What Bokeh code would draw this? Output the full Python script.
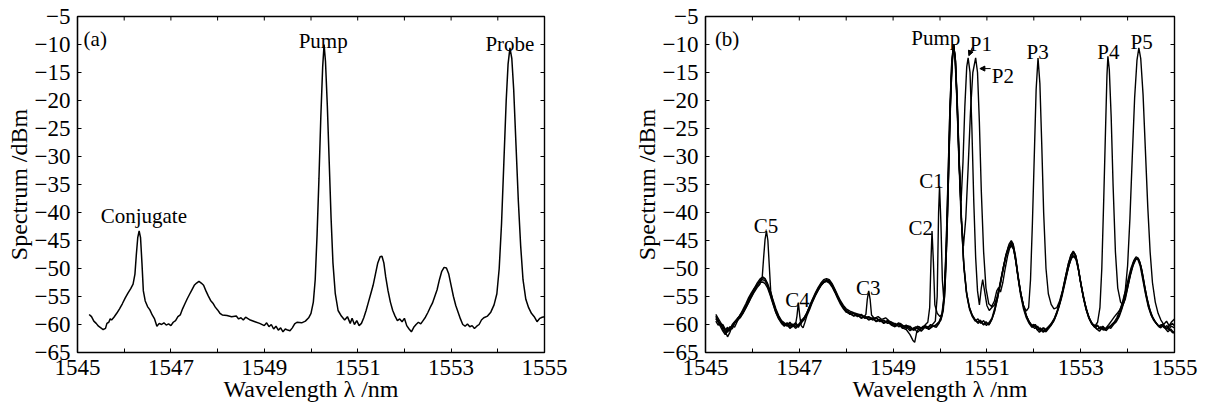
import math
from bokeh.plotting import figure
from bokeh.layouts import row
from bokeh.models import FixedTicker, ColumnDataSource, Arrow, NormalHead, Range1d
from bokeh.core.properties import value
from bokeh.embed import file_html
from bokeh.resources import INLINE

FONT = "Liberation Serif"

# ---------------- axes ----------------
X_RANGE = (1545, 1555)
Y_RANGE = (-65, -5)
X_TICKS_LABELED = [1545, 1547, 1549, 1551, 1553, 1555]
X_TICKS_PLAIN = [1546, 1548, 1550, 1552, 1554]
Y_TICKS = [-65, -60, -55, -50, -45, -40, -35, -30, -25, -20, -15, -10, -5]
Y_TICK_LABELS = ["\u221265", "\u221260", "\u221255", "\u221250", "\u221245", "\u221240", "\u221235",
                 "\u221230", "\u221225", "\u221220", "\u221215", "\u221210", "\u22125"]
X_LABEL = "Wavelength \u03bb /nm"
Y_LABEL = "Spectrum /dBm"

# ---------------- panel (a): single spectrum ----------------
SPEC_A = [
    (1545.25, -58.2), (1545.30, -58.6), (1545.35, -59.4), (1545.40, -59.8), (1545.45, -60.3),
    (1545.50, -60.6), (1545.55, -60.9), (1545.60, -60.7), (1545.63, -59.8), (1545.67, -59.6),
    (1545.70, -59.0), (1545.73, -59.2), (1545.78, -58.7), (1545.84, -58.0), (1545.90, -57.2),
    (1545.96, -56.3), (1546.02, -55.3), (1546.08, -54.4), (1546.14, -53.6), (1546.19, -52.8),
    (1546.23, -51.0), (1546.26, -47.5), (1546.29, -44.5), (1546.32, -43.3), (1546.35, -44.5),
    (1546.38, -49.0), (1546.41, -54.0), (1546.45, -55.8), (1546.50, -56.8), (1546.55, -57.4),
    (1546.60, -58.3), (1546.65, -59.0), (1546.70, -60.3), (1546.75, -59.8), (1546.80, -60.0),
    (1546.85, -59.7), (1546.90, -60.1), (1546.95, -59.9), (1547.00, -60.2), (1547.05, -59.6),
    (1547.10, -59.3), (1547.15, -58.6), (1547.20, -58.3), (1547.25, -57.2), (1547.30, -56.3),
    (1547.35, -55.4), (1547.40, -54.6), (1547.45, -53.8), (1547.50, -53.0), (1547.55, -52.6),
    (1547.60, -52.3), (1547.65, -52.6), (1547.70, -53.0), (1547.75, -54.0), (1547.80, -54.9),
    (1547.85, -55.7), (1547.90, -56.2), (1547.95, -56.9), (1548.00, -57.4), (1548.05, -58.0),
    (1548.10, -58.3), (1548.20, -58.4), (1548.30, -58.6), (1548.40, -58.5), (1548.45, -59.0),
    (1548.50, -58.8), (1548.55, -59.2), (1548.60, -58.7), (1548.70, -59.2), (1548.80, -59.5),
    (1548.90, -59.8), (1549.00, -60.2), (1549.05, -59.7), (1549.10, -60.4), (1549.15, -60.0),
    (1549.20, -60.8), (1549.25, -60.3), (1549.30, -61.0), (1549.35, -60.6), (1549.40, -61.3),
    (1549.45, -60.8), (1549.50, -61.0), (1549.55, -61.1), (1549.60, -60.6), (1549.65, -59.9),
    (1549.70, -59.6), (1549.80, -59.7), (1549.88, -59.4), (1549.95, -58.8), (1550.00, -58.0),
    (1550.05, -56.0), (1550.09, -52.0), (1550.13, -44.0), (1550.17, -34.0), (1550.21, -23.0),
    (1550.25, -14.0), (1550.28, -10.0), (1550.31, -13.0), (1550.35, -21.0), (1550.39, -31.0),
    (1550.43, -41.0), (1550.47, -49.0), (1550.52, -54.5), (1550.58, -57.5), (1550.65, -58.5),
    (1550.72, -59.2), (1550.78, -58.6), (1550.84, -59.8), (1550.88, -58.9), (1550.93, -60.0),
    (1550.98, -59.3), (1551.03, -60.2), (1551.08, -59.8), (1551.13, -58.8), (1551.18, -57.5),
    (1551.23, -56.0), (1551.28, -54.5), (1551.33, -53.0), (1551.38, -51.0), (1551.43, -49.0),
    (1551.48, -47.9), (1551.52, -47.8), (1551.56, -49.0), (1551.60, -51.5), (1551.65, -54.0),
    (1551.70, -56.0), (1551.75, -57.5), (1551.80, -58.5), (1551.85, -59.3), (1551.90, -59.0),
    (1551.95, -59.5), (1552.00, -58.9), (1552.05, -60.2), (1552.10, -60.8), (1552.15, -61.3),
    (1552.20, -60.5), (1552.25, -60.0), (1552.30, -59.6), (1552.35, -59.9), (1552.40, -59.3),
    (1552.45, -58.7), (1552.50, -57.9), (1552.55, -57.0), (1552.60, -56.2), (1552.65, -55.0),
    (1552.70, -53.8), (1552.75, -52.0), (1552.80, -50.5), (1552.85, -49.8), (1552.90, -49.9),
    (1552.95, -51.0), (1553.00, -53.0), (1553.05, -55.0), (1553.10, -56.6), (1553.15, -57.8),
    (1553.20, -59.0), (1553.25, -60.0), (1553.30, -60.3), (1553.35, -59.9), (1553.40, -60.4),
    (1553.45, -60.2), (1553.50, -60.7), (1553.55, -60.3), (1553.60, -60.0), (1553.65, -59.2),
    (1553.70, -58.8), (1553.78, -58.5), (1553.85, -57.8), (1553.92, -56.5), (1553.98, -54.5),
    (1554.03, -50.0), (1554.08, -42.0), (1554.13, -31.0), (1554.18, -20.0), (1554.22, -13.5),
    (1554.26, -10.6), (1554.30, -12.5), (1554.34, -18.0), (1554.39, -28.0), (1554.44, -38.0),
    (1554.49, -46.0), (1554.54, -52.0), (1554.60, -55.5), (1554.66, -57.0), (1554.72, -58.0),
    (1554.78, -58.6), (1554.84, -59.5), (1554.90, -58.9), (1554.95, -58.7), (1555.00, -58.6),
]

LABELS_A = ["(a)", "Conjugate", "Pump", "Probe"]
LABELS_A_X = [1545.13, 1546.42, 1550.26, 1554.26]
LABELS_A_Y = [-9.0, -40.6, -9.3, -9.9]
LABELS_A_ALIGN = ["left", "center", "center", "center"]

# ---------------- panel (b): five spectra (probe P1..P5) ----------------
SPEC_B1 = [
    (1545.22, -59.0), (1545.27, -59.6), (1545.32, -60.4), (1545.37, -61.2), (1545.42, -61.8),
    (1545.47, -61.0), (1545.52, -60.4), (1545.57, -60.8), (1545.62, -59.8), (1545.68, -59.2),
    (1545.74, -58.6), (1545.80, -57.9), (1545.86, -57.0), (1545.92, -56.0), (1545.98, -55.0),
    (1546.04, -54.0), (1546.10, -53.0), (1546.16, -52.2), (1546.22, -51.6), (1546.27, -51.9),
    (1546.32, -52.8), (1546.38, -54.3), (1546.44, -55.9), (1546.50, -57.4), (1546.56, -58.6),
    (1546.62, -59.5), (1546.68, -59.9), (1546.74, -60.3), (1546.80, -59.8), (1546.86, -60.4),
    (1546.92, -60.0), (1546.98, -60.5), (1547.04, -59.6), (1547.10, -59.2), (1547.16, -58.2),
    (1547.22, -57.0), (1547.28, -55.9), (1547.34, -54.8), (1547.40, -53.9), (1547.46, -53.0),
    (1547.52, -52.4), (1547.58, -52.0), (1547.64, -52.2), (1547.70, -52.9), (1547.76, -53.9),
    (1547.82, -55.0), (1547.88, -56.0), (1547.94, -56.8), (1548.00, -57.4), (1548.08, -57.9),
    (1548.16, -58.0), (1548.24, -58.4), (1548.32, -58.2), (1548.40, -58.7), (1548.48, -58.6),
    (1548.56, -59.0), (1548.64, -58.8), (1548.72, -59.3), (1548.80, -59.6), (1548.88, -59.3),
    (1548.96, -59.9), (1549.04, -60.1), (1549.12, -59.7), (1549.20, -60.4), (1549.28, -60.1),
    (1549.36, -60.8), (1549.44, -61.0), (1549.52, -60.3), (1549.60, -60.7), (1549.68, -60.2),
    (1549.76, -60.5), (1549.84, -60.0), (1549.90, -59.4), (1549.94, -55.0), (1549.97, -40.0),
    (1549.99, -35.3), (1550.02, -42.0), (1550.05, -52.0), (1550.08, -55.5), (1550.12, -50.0),
    (1550.16, -40.0), (1550.20, -27.0), (1550.24, -16.0), (1550.29, -10.0), (1550.33, -13.0),
    (1550.37, -22.0), (1550.41, -32.0), (1550.45, -38.0), (1550.49, -31.0), (1550.53, -21.0),
    (1550.57, -14.0), (1550.60, -12.4), (1550.64, -15.0), (1550.68, -25.0), (1550.72, -38.0),
    (1550.76, -48.0), (1550.80, -54.0), (1550.84, -56.5), (1550.88, -53.5), (1550.91, -52.0),
    (1550.95, -54.0), (1551.00, -56.6), (1551.05, -57.5), (1551.10, -57.0), (1551.16, -56.5),
    (1551.22, -55.0), (1551.28, -53.0), (1551.34, -50.5), (1551.40, -48.0), (1551.46, -46.3),
    (1551.52, -45.3), (1551.56, -45.8), (1551.60, -47.5), (1551.65, -50.5), (1551.70, -53.5),
    (1551.76, -56.0), (1551.82, -58.0), (1551.88, -59.3), (1551.94, -60.2), (1552.00, -60.0),
    (1552.06, -60.8), (1552.12, -61.4), (1552.18, -60.9), (1552.24, -61.3), (1552.30, -60.6),
    (1552.36, -60.2), (1552.42, -59.5), (1552.48, -58.3), (1552.54, -56.8), (1552.60, -55.0),
    (1552.66, -52.8), (1552.72, -50.5), (1552.78, -48.5), (1552.84, -47.3), (1552.88, -47.5),
    (1552.93, -49.0), (1552.98, -51.5), (1553.04, -54.2), (1553.10, -56.5), (1553.16, -58.3),
    (1553.22, -59.6), (1553.28, -60.3), (1553.34, -60.8), (1553.40, -61.2), (1553.46, -60.6),
    (1553.52, -61.0), (1553.58, -60.4), (1553.64, -60.7), (1553.70, -60.0), (1553.76, -59.5),
    (1553.82, -58.6), (1553.88, -57.2), (1553.94, -55.5), (1554.00, -53.4), (1554.06, -51.2),
    (1554.12, -49.4), (1554.18, -48.3), (1554.22, -48.2), (1554.26, -48.8), (1554.31, -50.5),
    (1554.36, -53.0), (1554.42, -55.5), (1554.48, -57.5), (1554.54, -58.8), (1554.60, -59.6),
    (1554.66, -60.3), (1554.72, -60.0), (1554.78, -60.6), (1554.84, -60.2), (1554.90, -60.9),
    (1554.96, -61.5), (1555.00, -61.2),
]

SPEC_B2 = [
    (1545.22, -58.5), (1545.27, -59.4), (1545.32, -60.0), (1545.37, -60.6), (1545.42, -61.2),
    (1545.47, -62.2), (1545.52, -61.4), (1545.57, -60.2), (1545.62, -60.5), (1545.68, -59.4),
    (1545.74, -58.2), (1545.80, -57.6), (1545.86, -56.8), (1545.92, -55.9), (1545.98, -54.8),
    (1546.04, -53.9), (1546.10, -53.0), (1546.16, -52.3), (1546.22, -52.0), (1546.27, -52.2),
    (1546.32, -53.0), (1546.38, -54.6), (1546.44, -56.2), (1546.50, -57.8), (1546.56, -58.9),
    (1546.62, -59.6), (1546.68, -60.2), (1546.74, -59.9), (1546.80, -60.6), (1546.86, -60.1),
    (1546.92, -60.7), (1546.98, -60.2), (1547.04, -59.8), (1547.10, -59.0), (1547.16, -58.0),
    (1547.22, -56.9), (1547.28, -55.7), (1547.34, -54.6), (1547.40, -53.6), (1547.46, -52.9),
    (1547.52, -52.3), (1547.58, -52.1), (1547.64, -52.4), (1547.70, -53.1), (1547.76, -54.1),
    (1547.82, -55.2), (1547.88, -56.2), (1547.94, -57.0), (1548.00, -57.6), (1548.08, -58.2),
    (1548.16, -58.0), (1548.24, -58.6), (1548.32, -58.4), (1548.40, -58.9), (1548.48, -58.7),
    (1548.56, -59.2), (1548.64, -58.9), (1548.72, -59.5), (1548.80, -59.2), (1548.88, -59.8),
    (1548.96, -59.6), (1549.04, -60.3), (1549.12, -60.0), (1549.20, -60.6), (1549.28, -60.9),
    (1549.36, -61.8), (1549.42, -62.8), (1549.46, -63.2), (1549.50, -61.5), (1549.56, -60.4),
    (1549.62, -60.8), (1549.68, -60.1), (1549.74, -59.6), (1549.78, -57.0), (1549.81, -48.0),
    (1549.83, -43.3), (1549.86, -49.0), (1549.89, -56.5), (1549.94, -58.0), (1550.00, -58.6),
    (1550.05, -58.0), (1550.10, -55.0), (1550.14, -46.0), (1550.18, -34.0), (1550.22, -21.0),
    (1550.26, -13.0), (1550.29, -10.0), (1550.32, -12.5), (1550.36, -20.0), (1550.40, -30.0),
    (1550.45, -41.0), (1550.50, -46.0), (1550.55, -41.0), (1550.60, -32.0), (1550.65, -22.0),
    (1550.70, -15.0), (1550.76, -12.4), (1550.80, -15.0), (1550.84, -24.0), (1550.88, -36.0),
    (1550.93, -47.0), (1550.98, -53.5), (1551.04, -56.3), (1551.10, -56.8), (1551.16, -55.8),
    (1551.21, -54.0), (1551.25, -53.4), (1551.29, -54.2), (1551.34, -52.5), (1551.39, -50.0),
    (1551.44, -47.8), (1551.49, -46.2), (1551.54, -45.9), (1551.58, -46.8), (1551.62, -49.0),
    (1551.67, -52.0), (1551.72, -54.8), (1551.78, -57.2), (1551.84, -58.8), (1551.90, -59.8),
    (1551.96, -60.5), (1552.02, -60.2), (1552.08, -61.0), (1552.14, -60.6), (1552.20, -61.4),
    (1552.26, -60.8), (1552.32, -60.3), (1552.38, -59.8), (1552.44, -58.9), (1552.50, -57.6),
    (1552.56, -56.0), (1552.62, -54.0), (1552.68, -51.8), (1552.74, -49.7), (1552.80, -48.2),
    (1552.85, -47.8), (1552.90, -48.4), (1552.95, -50.2), (1553.00, -52.6), (1553.06, -55.2),
    (1553.12, -57.3), (1553.18, -58.9), (1553.24, -59.9), (1553.30, -60.5), (1553.36, -60.2),
    (1553.42, -60.9), (1553.48, -60.4), (1553.54, -61.1), (1553.60, -60.6), (1553.66, -60.2),
    (1553.72, -59.7), (1553.78, -59.0), (1553.84, -57.9), (1553.90, -56.4), (1553.96, -54.5),
    (1554.02, -52.3), (1554.08, -50.3), (1554.14, -48.8), (1554.19, -48.2), (1554.24, -48.5),
    (1554.29, -49.8), (1554.34, -52.0), (1554.40, -54.8), (1554.46, -57.0), (1554.52, -58.5),
    (1554.58, -59.4), (1554.64, -60.1), (1554.70, -60.6), (1554.76, -60.2), (1554.82, -60.8),
    (1554.88, -60.3), (1554.94, -59.5), (1555.00, -59.0),
]

SPEC_B3 = [
    (1545.22, -59.4), (1545.27, -60.1), (1545.32, -59.8), (1545.37, -60.9), (1545.42, -61.5),
    (1545.47, -60.7), (1545.52, -61.1), (1545.57, -60.0), (1545.62, -59.5), (1545.68, -58.9),
    (1545.74, -58.4), (1545.80, -57.6), (1545.86, -56.6), (1545.92, -55.6), (1545.98, -54.6),
    (1546.04, -53.6), (1546.10, -52.6), (1546.16, -51.9), (1546.22, -51.5), (1546.27, -51.8),
    (1546.32, -52.6), (1546.38, -54.0), (1546.44, -55.6), (1546.50, -57.2), (1546.56, -58.4),
    (1546.62, -59.3), (1546.68, -59.7), (1546.74, -60.1), (1546.80, -59.6), (1546.86, -60.2),
    (1546.92, -59.7), (1546.98, -60.3), (1547.04, -59.3), (1547.10, -58.8), (1547.16, -57.9),
    (1547.22, -56.7), (1547.28, -55.5), (1547.34, -54.4), (1547.40, -53.4), (1547.46, -52.6),
    (1547.52, -52.0), (1547.58, -51.8), (1547.64, -52.0), (1547.70, -52.7), (1547.76, -53.7),
    (1547.82, -54.8), (1547.88, -55.8), (1547.94, -56.6), (1548.00, -57.2), (1548.08, -57.6),
    (1548.16, -57.9), (1548.24, -58.1), (1548.32, -58.3), (1548.38, -58.6), (1548.42, -58.2),
    (1548.45, -55.5), (1548.48, -54.0), (1548.51, -55.5), (1548.54, -58.3), (1548.60, -58.9),
    (1548.68, -58.6), (1548.76, -59.1), (1548.84, -58.8), (1548.92, -59.4), (1549.00, -59.7),
    (1549.08, -60.2), (1549.16, -59.8), (1549.24, -60.5), (1549.32, -60.2), (1549.40, -60.9),
    (1549.48, -60.4), (1549.56, -60.9), (1549.64, -60.3), (1549.72, -60.7), (1549.80, -60.0),
    (1549.88, -60.4), (1549.96, -59.8), (1550.02, -59.2), (1550.07, -57.5), (1550.11, -53.0),
    (1550.15, -44.0), (1550.19, -31.0), (1550.23, -19.0), (1550.27, -11.5), (1550.29, -10.0),
    (1550.32, -12.0), (1550.36, -19.0), (1550.40, -29.0), (1550.45, -40.0), (1550.50, -48.5),
    (1550.56, -54.0), (1550.62, -56.8), (1550.68, -58.2), (1550.74, -59.0), (1550.80, -59.6),
    (1550.86, -59.2), (1550.92, -60.0), (1550.98, -59.5), (1551.04, -60.1), (1551.10, -59.2),
    (1551.16, -57.8), (1551.22, -55.6), (1551.28, -53.0), (1551.34, -50.3), (1551.40, -47.8),
    (1551.46, -46.2), (1551.52, -45.6), (1551.56, -46.2), (1551.61, -48.3), (1551.66, -51.3),
    (1551.72, -54.4), (1551.78, -56.6), (1551.84, -57.6), (1551.89, -57.0), (1551.93, -52.0),
    (1551.97, -42.0), (1552.01, -30.0), (1552.05, -18.0), (1552.09, -12.4), (1552.13, -17.0),
    (1552.17, -28.0), (1552.21, -40.0), (1552.26, -50.0), (1552.31, -54.5), (1552.37, -56.4),
    (1552.43, -57.2), (1552.49, -57.0), (1552.55, -55.8), (1552.61, -54.0), (1552.67, -51.7),
    (1552.73, -49.4), (1552.79, -47.6), (1552.84, -46.9), (1552.89, -47.6), (1552.94, -49.6),
    (1552.99, -52.2), (1553.05, -55.0), (1553.11, -57.2), (1553.17, -58.8), (1553.23, -59.8),
    (1553.29, -60.4), (1553.35, -60.1), (1553.41, -60.7), (1553.47, -60.3), (1553.53, -60.9),
    (1553.59, -60.5), (1553.65, -60.1), (1553.71, -59.6), (1553.77, -58.8), (1553.83, -57.6),
    (1553.89, -56.0), (1553.95, -54.1), (1554.01, -52.0), (1554.07, -50.0), (1554.13, -48.6),
    (1554.18, -47.9), (1554.23, -48.2), (1554.28, -49.5), (1554.33, -51.8), (1554.39, -54.6),
    (1554.45, -56.9), (1554.51, -58.4), (1554.57, -59.3), (1554.63, -60.0), (1554.69, -60.4),
    (1554.75, -59.9), (1554.81, -60.5), (1554.87, -60.9), (1554.93, -60.3), (1555.00, -60.6),
]

SPEC_B4 = [
    (1545.22, -58.8), (1545.27, -59.2), (1545.32, -60.1), (1545.37, -60.0), (1545.42, -60.8),
    (1545.47, -61.4), (1545.52, -60.6), (1545.57, -60.2), (1545.62, -59.7), (1545.68, -59.0),
    (1545.74, -58.3), (1545.80, -57.3), (1545.86, -56.3), (1545.92, -55.2), (1545.98, -54.3),
    (1546.04, -53.5), (1546.10, -52.9), (1546.16, -52.5), (1546.22, -52.4), (1546.27, -52.7),
    (1546.32, -53.4), (1546.38, -54.8), (1546.44, -56.4), (1546.50, -57.9), (1546.56, -59.0),
    (1546.62, -59.8), (1546.68, -60.3), (1546.74, -60.0), (1546.80, -60.7), (1546.86, -60.3),
    (1546.92, -60.0), (1546.95, -58.5), (1546.98, -56.1), (1547.01, -58.5), (1547.04, -60.2),
    (1547.08, -60.6), (1547.12, -59.6), (1547.16, -58.5), (1547.22, -57.3), (1547.28, -56.0),
    (1547.34, -54.9), (1547.40, -53.9), (1547.46, -53.1), (1547.52, -52.5), (1547.58, -52.2),
    (1547.64, -52.4), (1547.70, -53.0), (1547.76, -54.0), (1547.82, -55.1), (1547.88, -56.1),
    (1547.94, -57.0), (1548.00, -57.7), (1548.08, -58.1), (1548.16, -58.4), (1548.24, -58.2),
    (1548.32, -58.8), (1548.40, -58.5), (1548.48, -59.1), (1548.56, -58.8), (1548.64, -59.4),
    (1548.72, -59.1), (1548.80, -59.7), (1548.88, -59.4), (1548.96, -60.0), (1549.04, -59.8),
    (1549.12, -60.4), (1549.20, -60.1), (1549.28, -60.7), (1549.36, -60.3), (1549.44, -61.0),
    (1549.52, -60.6), (1549.60, -61.2), (1549.68, -60.5), (1549.76, -60.8), (1549.84, -60.2),
    (1549.92, -60.5), (1549.98, -59.8), (1550.04, -58.5), (1550.09, -55.0), (1550.13, -47.0),
    (1550.17, -35.0), (1550.21, -22.0), (1550.25, -13.5), (1550.29, -10.1), (1550.33, -13.0),
    (1550.37, -21.0), (1550.41, -31.0), (1550.46, -42.0), (1550.51, -50.0), (1550.57, -54.8),
    (1550.63, -57.3), (1550.69, -58.6), (1550.75, -59.4), (1550.81, -59.0), (1550.87, -59.8),
    (1550.93, -59.3), (1550.99, -60.2), (1551.05, -59.6), (1551.11, -58.8), (1551.17, -57.0),
    (1551.23, -54.8), (1551.29, -52.2), (1551.35, -49.8), (1551.41, -47.7), (1551.47, -46.4),
    (1551.53, -46.0), (1551.57, -46.6), (1551.62, -48.8), (1551.67, -51.8), (1551.73, -54.8),
    (1551.79, -57.0), (1551.85, -58.6), (1551.91, -59.6), (1551.97, -60.3), (1552.03, -60.0),
    (1552.09, -60.7), (1552.15, -61.2), (1552.21, -60.6), (1552.27, -61.0), (1552.33, -60.3),
    (1552.39, -59.6), (1552.45, -58.7), (1552.51, -57.3), (1552.57, -55.6), (1552.63, -53.5),
    (1552.69, -51.2), (1552.75, -49.3), (1552.81, -48.0), (1552.86, -47.7), (1552.91, -48.5),
    (1552.96, -50.5), (1553.01, -53.0), (1553.07, -55.6), (1553.13, -57.6), (1553.19, -59.0),
    (1553.25, -59.9), (1553.31, -60.2), (1553.36, -59.6), (1553.41, -57.0), (1553.45, -50.0),
    (1553.49, -38.0), (1553.53, -25.0), (1553.56, -15.5), (1553.58, -12.1), (1553.61, -14.5),
    (1553.65, -23.0), (1553.69, -35.0), (1553.74, -47.0), (1553.79, -53.5), (1553.85, -56.0),
    (1553.90, -56.5), (1553.95, -55.5), (1554.00, -53.5), (1554.06, -51.0), (1554.12, -49.0),
    (1554.17, -48.2), (1554.22, -48.4), (1554.27, -49.6), (1554.32, -51.8), (1554.38, -54.5),
    (1554.44, -56.8), (1554.50, -58.3), (1554.56, -59.3), (1554.62, -59.9), (1554.68, -60.5),
    (1554.74, -60.1), (1554.80, -60.7), (1554.86, -61.3), (1554.92, -60.8), (1555.00, -61.6),
]

SPEC_B5 = [
    (1545.22, -58.2), (1545.27, -58.9), (1545.32, -59.6), (1545.37, -60.3), (1545.42, -61.0),
    (1545.47, -60.5), (1545.52, -61.2), (1545.57, -60.4), (1545.62, -59.6), (1545.68, -59.3),
    (1545.74, -58.8), (1545.80, -58.0), (1545.86, -57.1), (1545.92, -56.1), (1545.98, -55.1),
    (1546.04, -54.2), (1546.10, -53.4), (1546.16, -52.8), (1546.21, -51.5), (1546.24, -48.0),
    (1546.27, -44.8), (1546.30, -43.3), (1546.33, -45.0), (1546.36, -49.5), (1546.39, -54.0),
    (1546.44, -56.0), (1546.50, -57.6), (1546.56, -58.7), (1546.62, -59.4), (1546.68, -60.0),
    (1546.74, -59.7), (1546.80, -60.3), (1546.86, -59.9), (1546.92, -60.4), (1546.98, -60.0),
    (1547.04, -59.5), (1547.10, -58.9), (1547.16, -58.0), (1547.22, -56.8), (1547.28, -55.6),
    (1547.34, -54.6), (1547.40, -53.7), (1547.46, -53.0), (1547.52, -52.5), (1547.58, -52.3),
    (1547.64, -52.6), (1547.70, -53.3), (1547.76, -54.3), (1547.82, -55.4), (1547.88, -56.4),
    (1547.94, -57.2), (1548.00, -57.8), (1548.08, -58.0), (1548.16, -58.5), (1548.24, -58.3),
    (1548.32, -58.9), (1548.40, -58.6), (1548.48, -59.2), (1548.56, -58.9), (1548.64, -59.5),
    (1548.72, -59.2), (1548.80, -59.8), (1548.88, -59.5), (1548.96, -60.1), (1549.04, -60.4),
    (1549.12, -59.9), (1549.20, -60.7), (1549.28, -60.4), (1549.36, -61.1), (1549.44, -60.6),
    (1549.52, -61.4), (1549.60, -60.8), (1549.68, -60.3), (1549.76, -60.9), (1549.84, -60.4),
    (1549.92, -60.0), (1549.98, -59.5), (1550.04, -58.2), (1550.09, -54.5), (1550.13, -46.0),
    (1550.17, -34.0), (1550.21, -21.5), (1550.25, -13.0), (1550.29, -10.0), (1550.33, -12.8),
    (1550.37, -20.5), (1550.41, -30.5), (1550.46, -41.5), (1550.51, -49.5), (1550.57, -54.5),
    (1550.63, -57.0), (1550.69, -58.4), (1550.75, -59.2), (1550.81, -59.8), (1550.87, -59.4),
    (1550.93, -60.1), (1550.99, -59.7), (1551.05, -60.0), (1551.11, -59.0), (1551.17, -57.4),
    (1551.23, -55.2), (1551.29, -52.5), (1551.35, -49.8), (1551.41, -47.4), (1551.47, -45.7),
    (1551.52, -45.0), (1551.56, -45.6), (1551.61, -47.8), (1551.66, -51.0), (1551.72, -54.2),
    (1551.78, -56.7), (1551.84, -58.4), (1551.90, -59.5), (1551.96, -60.2), (1552.02, -60.7),
    (1552.08, -60.3), (1552.14, -61.0), (1552.20, -60.6), (1552.26, -61.3), (1552.32, -60.7),
    (1552.38, -60.0), (1552.44, -59.1), (1552.50, -57.8), (1552.56, -56.0), (1552.62, -53.8),
    (1552.68, -51.3), (1552.74, -49.0), (1552.80, -47.5), (1552.85, -47.0), (1552.90, -47.8),
    (1552.95, -49.9), (1553.00, -52.5), (1553.06, -55.2), (1553.12, -57.4), (1553.18, -58.9),
    (1553.24, -59.8), (1553.30, -60.3), (1553.36, -60.9), (1553.42, -60.4), (1553.48, -61.0),
    (1553.54, -60.6), (1553.60, -60.0), (1553.66, -59.3), (1553.72, -58.6), (1553.78, -58.0),
    (1553.84, -57.3), (1553.90, -56.2), (1553.95, -54.0), (1554.00, -49.5), (1554.05, -41.0),
    (1554.10, -30.0), (1554.15, -19.5), (1554.20, -12.8), (1554.24, -10.6), (1554.28, -12.5),
    (1554.33, -19.0), (1554.38, -29.0), (1554.43, -39.0), (1554.48, -47.0), (1554.53, -52.5),
    (1554.59, -56.0), (1554.65, -58.0), (1554.71, -59.2), (1554.77, -60.0), (1554.83, -59.4),
    (1554.89, -60.3), (1554.95, -59.8), (1555.00, -60.2),
]

LABELS_B = ["(b)", "Pump", "P1", "P2", "P3", "P4", "P5", "C1", "C2", "C3", "C4", "C5"]
LABELS_B_X = [1545.20, 1549.91, 1550.87, 1551.34, 1552.08, 1553.59, 1554.30,
              1549.82, 1549.59, 1548.47, 1546.96, 1546.29]
LABELS_B_Y = [-9.0, -8.8, -9.9, -15.6, -11.4, -11.3, -9.5,
              -34.3, -42.7, -53.4, -55.6, -42.4]
LABELS_B_ALIGN = ["left"] + ["center"] * 11

# arrows from labels P1 / P2 to their peaks
ARROW_X0 = [1550.69, 1551.08]
ARROW_Y0 = [-10.5, -14.3]
ARROW_X1 = [1550.615, 1550.85]
ARROW_Y1 = [-12.0, -14.3]


def style(p):
    p.xgrid.visible = False
    p.ygrid.visible = False
    p.outline_line_color = "black"
    p.outline_line_width = 1.4
    p.outline_line_alpha = 1.0
    p.background_fill_color = "white"
    p.border_fill_color = "white"
    y_over = {t: l for t, l in zip(Y_TICKS, Y_TICK_LABELS)}
    for ax in p.xaxis:
        ax.ticker = FixedTicker(ticks=X_TICKS_LABELED, minor_ticks=X_TICKS_PLAIN)
        ax.major_label_standoff = 7
        ax.axis_label_standoff = -2
    for ax in p.yaxis:
        ax.ticker = FixedTicker(ticks=Y_TICKS, minor_ticks=[])
        ax.major_label_overrides = y_over
        ax.major_label_standoff = 7
        ax.axis_label_standoff = 0
    for ax in list(p.xaxis) + list(p.yaxis):
        ax.major_tick_in = 4
        ax.major_tick_out = 0
        ax.minor_tick_in = 4
        ax.minor_tick_out = 0
        ax.minor_tick_line_color = "black"
        ax.axis_line_color = "black"
        ax.axis_line_width = 1.2
        ax.major_tick_line_color = "black"
        ax.major_label_text_font = FONT
        ax.major_label_text_font_size = "23px"
        ax.major_label_text_color = "black"
        ax.axis_label_text_font = FONT
        ax.axis_label_text_font_size = "24px"
        ax.axis_label_text_font_style = "normal"
        ax.axis_label_text_color = "black"
    # inward tick marks on the top and right frame edges (clipped to the frame)
    top_x = X_TICKS_LABELED + X_TICKS_PLAIN
    p.scatter(x=top_x, y=[Y_RANGE[1]] * len(top_x), marker="dash", size=8,
              angle=math.pi / 2, line_color="black", line_width=1)
    p.scatter(x=[X_RANGE[1]] * len(Y_TICKS), y=Y_TICKS, marker="dash", size=8,
              line_color="black", line_width=1)


def make_fig(width, left, right):
    p = figure(width=width, height=412, x_range=Range1d(*X_RANGE), y_range=Range1d(*Y_RANGE),
               output_backend="svg", toolbar_location=None,
               min_border_left=left, min_border_right=right, min_border_top=16, min_border_bottom=60,
               x_axis_label=X_LABEL, y_axis_label=Y_LABEL)
    style(p)
    return p


# ---- panel (a)
pa = make_fig(600, 77, 56)
xa, ya = zip(*SPEC_A)
pa.line(list(xa), list(ya), line_color="black", line_width=1.5)
src_la = ColumnDataSource(dict(x=LABELS_A_X, y=LABELS_A_Y, t=LABELS_A, a=LABELS_A_ALIGN))
pa.text(x="x", y="y", text="t", text_align="a", source=src_la, text_baseline="alphabetic",
        text_font=value(FONT), text_font_size="21px", text_color="black")

# ---- panel (b)
pb = make_fig(600, 105, 26)
for spec in (SPEC_B1, SPEC_B2, SPEC_B3, SPEC_B4, SPEC_B5):
    xb, yb = zip(*spec)
    pb.line(list(xb), list(yb), line_color="black", line_width=1.4)
src_lb = ColumnDataSource(dict(x=LABELS_B_X, y=LABELS_B_Y, t=LABELS_B, a=LABELS_B_ALIGN))
pb.text(x="x", y="y", text="t", text_align="a", source=src_lb, text_baseline="alphabetic",
        text_font=value(FONT), text_font_size="21px", text_color="black")
src_arr = ColumnDataSource(dict(x0=ARROW_X0, y0=ARROW_Y0, x1=ARROW_X1, y1=ARROW_Y1))
pb.add_layout(Arrow(end=NormalHead(size=5, fill_color="black", line_color="black", line_width=1),
                    x_start="x0", y_start="y0", x_end="x1", y_end="y1", source=src_arr,
                    line_color="black", line_width=1))

layout = row(pa, pb)
open("out.html", "w").write(file_html(layout, INLINE))
